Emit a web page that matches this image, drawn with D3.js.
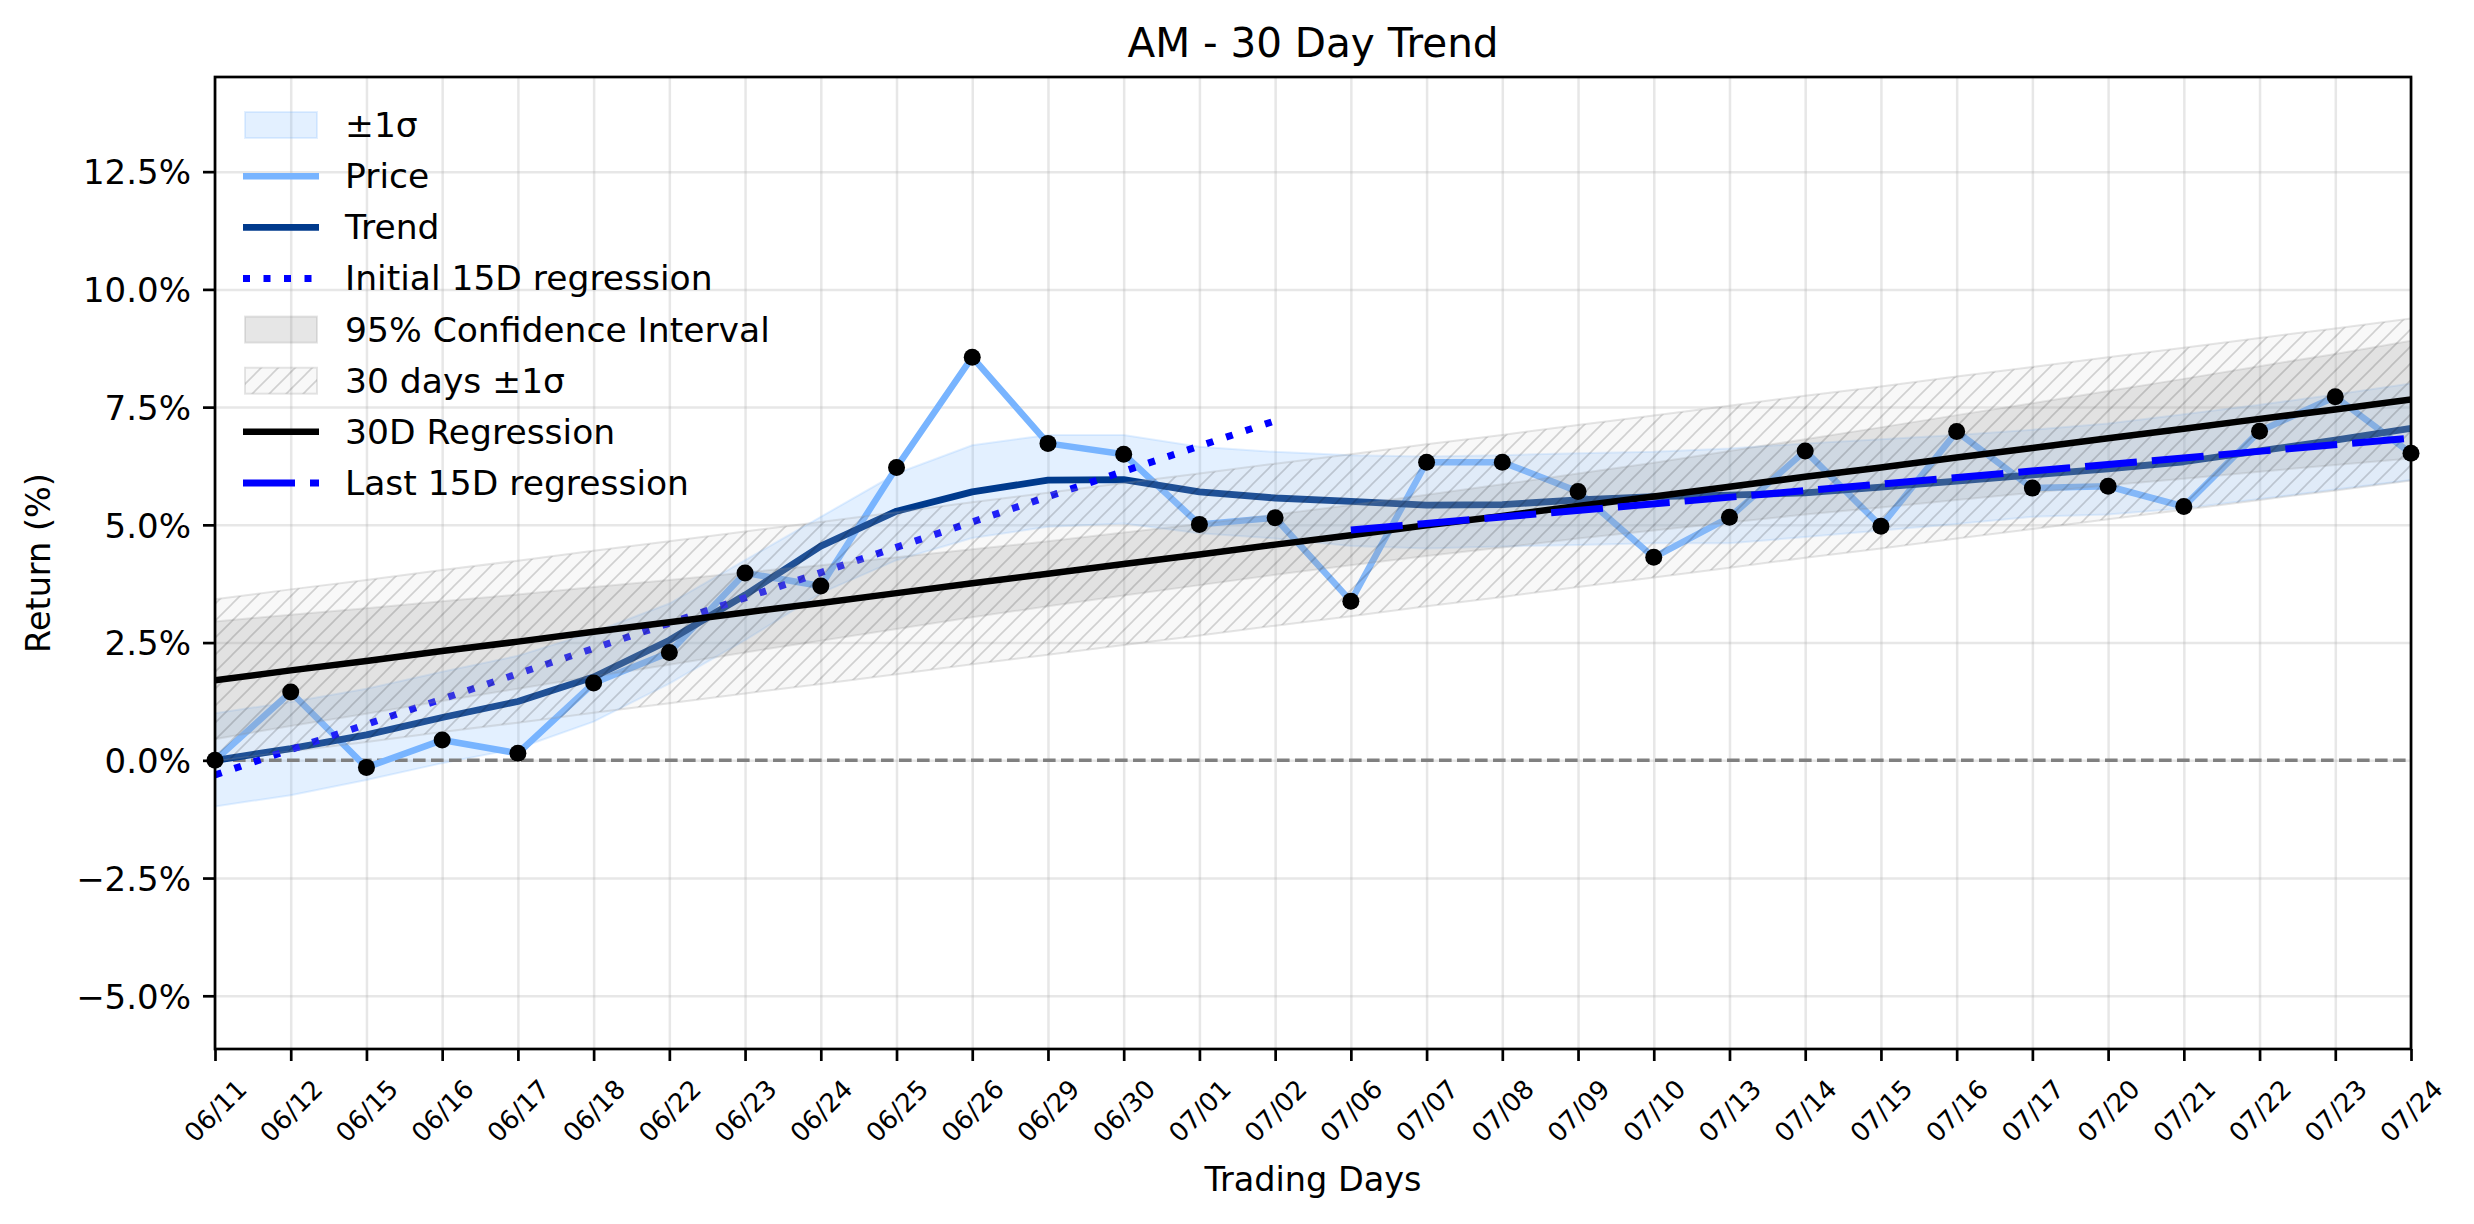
<!DOCTYPE html>
<meta charset="utf-8">
<script src="https://cdn.jsdelivr.net/npm/d3@7"></script>
<style>
  body {
    margin: 0;
    background: #fff;
  }

  text {
    font-family: "DejaVu Sans", sans-serif;
    fill: #000;
  }
</style>

<!-- div container -->
<div id="wrapper"></div>

<script>
  // Data (return in %)
  const dates = ["06/11", "06/12", "06/15", "06/16", "06/17", "06/18", "06/22", "06/23", "06/24", "06/25",
    "06/26", "06/29", "06/30", "07/01", "07/02", "07/06", "07/07", "07/08", "07/09", "07/10",
    "07/13", "07/14", "07/15", "07/16", "07/17", "07/20", "07/21", "07/22", "07/23", "07/24"];

  const price = [0.00, 1.45, -0.15, 0.43, 0.15, 1.64, 2.29, 3.98, 3.70, 6.22,
    8.56, 6.73, 6.50, 5.01, 5.15, 3.38, 6.33, 6.33, 5.71, 4.31,
    5.16, 6.57, 4.97, 6.98, 5.78, 5.82, 5.39, 6.99, 7.72, 6.52];

  const trend = [0.00, 0.25, 0.54, 0.91, 1.25, 1.77, 2.55, 3.51, 4.55, 5.29,
    5.70, 5.95, 5.96, 5.70, 5.57, 5.50, 5.42, 5.43, 5.53, 5.60,
    5.63, 5.68, 5.80, 5.93, 6.06, 6.19, 6.34, 6.57, 6.80, 7.05];

  const sigmaUpper = [1.00, 1.24, 1.52, 1.88, 2.22, 2.72, 3.33, 4.25, 5.17, 6.09,
    6.69, 6.91, 6.91, 6.66, 6.55, 6.48, 6.45, 6.48, 6.52, 6.55,
    6.62, 6.73, 6.82, 6.91, 7.02, 7.15, 7.35, 7.55, 7.77, 8.00];

  const sigmaLower = [-0.98, -0.74, -0.42, -0.06, 0.25, 0.82, 1.63, 2.55, 3.55, 4.25,
    4.72, 4.96, 5.03, 4.82, 4.71, 4.55, 4.50, 4.54, 4.57, 4.61,
    4.61, 4.74, 4.88, 5.02, 5.17, 5.22, 5.35, 5.55, 5.75, 5.95];

  const regression30 = [1.70, 1.91, 2.11, 2.32, 2.52, 2.73, 2.93, 3.14, 3.34, 3.55,
    3.76, 3.96, 4.17, 4.37, 4.58, 4.78, 4.99, 5.19, 5.40, 5.60,
    5.81, 6.02, 6.22, 6.43, 6.63, 6.84, 7.04, 7.25, 7.45, 7.66];

  const ciHalf = [1.25, 1.18, 1.12, 1.06, 1.00, 0.95, 0.90, 0.85, 0.80, 0.76,
    0.72, 0.69, 0.67, 0.65, 0.64, 0.64, 0.65, 0.67, 0.69, 0.72,
    0.76, 0.80, 0.85, 0.90, 0.95, 1.00, 1.06, 1.12, 1.18, 1.25];

  const sigma30 = 1.72;
  const initialReg = [-0.31, 7.21];   // 06/11 -> 07/02
  const lastReg = [4.89, 6.84];       // 07/06 -> 07/24
  const yTicks = [-5, -2.5, 0, 2.5, 5, 7.5, 10, 12.5];

  const legendItems = ["±1σ", "Price", "Trend", "Initial 15D regression", "95% Confidence Interval",
    "30 days ±1σ", "30D Regression", "Last 15D regression"];

  // Margin and width height config
  const W = 2474, H = 1224;
  const margin = { top: 77, right: 63, bottom: 175, left: 215 },
    width = W - margin.left - margin.right,
    height = H - margin.top - margin.bottom;

  const root = d3.select("#wrapper")
    .append("svg")
    .attr("width", W)
    .attr("height", H)
    .style("display", "block");

  root.append("rect").attr("width", W).attr("height", H).attr("fill", "#fff");

  const defs = root.append("defs");
  defs.append("pattern")
    .attr("id", "hatch")
    .attr("patternUnits", "userSpaceOnUse")
    .attr("width", 17)
    .attr("height", 17)
    .append("path")
    .attr("d", "M-4,4 L4,-4 M0,17 L17,0 M13,21 L21,13")
    .attr("stroke", "#000")
    .attr("stroke-opacity", 0.16)
    .attr("stroke-width", 1.6);
  defs.append("clipPath").attr("id", "plotclip")
    .append("rect").attr("width", width).attr("height", height);

  const svg = root.append("g")
    .attr("transform", `translate(${margin.left},${margin.top})`);

  // scales
  const x = d3.scalePoint().domain(dates).range([0, width]);
  const y = d3.scaleLinear().domain([-6.13, 14.51]).range([height, 0]);

  // grid
  svg.append("g")
    .attr("class", "grid")
    .attr("transform", `translate(0,${height})`)
    .call(d3.axisBottom(x).tickSize(-height).tickFormat(""))
    .call(g => g.select(".domain").remove());
  svg.append("g")
    .attr("class", "grid")
    .call(d3.axisLeft(y).tickValues(yTicks).tickSize(-width).tickFormat(""))
    .call(g => g.select(".domain").remove());
  svg.selectAll(".grid line").attr("stroke", "#b0b0b0").attr("stroke-opacity", 0.3).attr("stroke-width", 2.5);

  const idx = d3.range(dates.length);
  const plot = svg.append("g").attr("clip-path", "url(#plotclip)");

  // ±1σ band
  plot.append("path")
    .datum(idx)
    .attr("d", d3.area().x(i => x(dates[i])).y0(i => y(sigmaLower[i])).y1(i => y(sigmaUpper[i])))
    .attr("fill", "#66aaff").attr("fill-opacity", 0.18)
    .attr("stroke", "#66aaff").attr("stroke-opacity", 0.18).attr("stroke-width", 2);

  // zero line
  plot.append("line")
    .attr("x1", 0).attr("x2", width)
    .attr("y1", y(0)).attr("y2", y(0))
    .attr("stroke", "#808080").attr("stroke-width", 3.4)
    .attr("stroke-dasharray", "12.6,5.4");

  // price line
  plot.append("path")
    .datum(idx)
    .attr("d", d3.line().x(i => x(dates[i])).y(i => y(price[i])))
    .attr("fill", "none").attr("stroke", "#78b4ff").attr("stroke-width", 6.5)
    .attr("stroke-linejoin", "round");

  // trend
  plot.append("path")
    .datum(idx)
    .attr("d", d3.line().x(i => x(dates[i])).y(i => y(trend[i])))
    .attr("fill", "none").attr("stroke", "#003a8c").attr("stroke-width", 6.8)
    .attr("stroke-linejoin", "round");

  // initial 15D regression
  plot.append("line")
    .attr("x1", x(dates[0])).attr("y1", y(initialReg[0]))
    .attr("x2", x(dates[14])).attr("y2", y(initialReg[1]))
    .attr("stroke", "#0000ff").attr("stroke-width", 7)
    .attr("stroke-dasharray", "7,13.5");

  // 95% confidence interval
  plot.append("path")
    .datum(idx)
    .attr("d", d3.area().x(i => x(dates[i])).y0(i => y(regression30[i] - ciHalf[i])).y1(i => y(regression30[i] + ciHalf[i])))
    .attr("fill", "#808080").attr("fill-opacity", 0.2)
    .attr("stroke", "#808080").attr("stroke-opacity", 0.2).attr("stroke-width", 2);

  // 30 days ±1σ hatched band
  const sdArea = d3.area().x(i => x(dates[i])).y0(i => y(regression30[i] - sigma30)).y1(i => y(regression30[i] + sigma30));
  plot.append("path").datum(idx).attr("d", sdArea)
    .attr("fill", "#d0d0d0").attr("fill-opacity", 0.15);
  plot.append("path").datum(idx).attr("d", sdArea)
    .attr("fill", "url(#hatch)")
    .attr("stroke", "#999").attr("stroke-opacity", 0.25).attr("stroke-width", 2);

  // 30D regression
  plot.append("path")
    .datum(idx)
    .attr("d", d3.line().x(i => x(dates[i])).y(i => y(regression30[i])))
    .attr("fill", "none").attr("stroke", "#000").attr("stroke-width", 6.5);

  // last 15D regression
  plot.append("line")
    .attr("x1", x(dates[15])).attr("y1", y(lastReg[0]))
    .attr("x2", x(dates[29])).attr("y2", y(lastReg[1]))
    .attr("stroke", "#0000ff").attr("stroke-width", 7)
    .attr("stroke-dasharray", "52,15");

  // points
  svg.append("g")
    .selectAll("circle")
    .data(idx)
    .join("circle")
    .attr("cx", i => x(dates[i]))
    .attr("cy", i => y(price[i]))
    .attr("r", 8.5)
    .attr("fill", "#000");

  // axes
  const xAxis = svg.append("g")
    .attr("transform", `translate(0,${height})`)
    .call(d3.axisBottom(x).tickSize(12).tickSizeOuter(0));
  xAxis.selectAll("text").remove();
  xAxis.selectAll(".tick")
    .append("text")
    .attr("text-anchor", "middle")
    .attr("dominant-baseline", "central")
    .attr("transform", "translate(0,62) rotate(-45)")
    .style("font-size", "26px")
    .text(d => d);

  const yAxis = svg.append("g")
    .call(d3.axisLeft(y).tickValues(yTicks).tickSize(12).tickSizeOuter(0)
      .tickFormat(d => (d < 0 ? "\u2212" : "") + Math.abs(d).toFixed(1) + "%"));
  yAxis.selectAll("text")
    .attr("x", -24)
    .attr("dy", "0.36em")
    .style("font-size", "34px");

  svg.selectAll(".tick line").filter(function () { return !this.closest(".grid"); })
    .attr("stroke", "#000").attr("stroke-width", 2.7);
  svg.selectAll(".domain").attr("stroke", "none");

  // frame
  svg.append("rect")
    .attr("width", width).attr("height", height)
    .attr("fill", "none").attr("stroke", "#000").attr("stroke-width", 2.7);

  // labels
  root.append("text")
    .attr("x", margin.left + width / 2).attr("y", 57)
    .attr("text-anchor", "middle")
    .style("font-size", "40.5px")
    .text("AM - 30 Day Trend");

  root.append("text")
    .attr("x", margin.left + width / 2).attr("y", 1191)
    .attr("text-anchor", "middle")
    .style("font-size", "33.5px")
    .text("Trading Days");

  root.append("text")
    .attr("transform", `translate(50,${margin.top + height / 2}) rotate(-90)`)
    .attr("text-anchor", "middle")
    .style("font-size", "33.5px")
    .text("Return (%)");

  // legend
  const legend = root.append("g");
  const rowY = d3.scaleLinear().domain([0, 7]).range([125, 483]);
  const hx0 = 243, hx1 = 319;

  legendItems.forEach((label, k) => {
    const cy = rowY(k);
    const g = legend.append("g");
    if (k === 0) {
      g.append("rect").attr("x", hx0 + 2).attr("y", cy - 13).attr("width", hx1 - hx0 - 4).attr("height", 26)
        .attr("fill", "#66aaff").attr("fill-opacity", 0.18)
        .attr("stroke", "#66aaff").attr("stroke-opacity", 0.18).attr("stroke-width", 2);
    } else if (k === 4) {
      g.append("rect").attr("x", hx0 + 2).attr("y", cy - 13).attr("width", hx1 - hx0 - 4).attr("height", 26)
        .attr("fill", "#808080").attr("fill-opacity", 0.2)
        .attr("stroke", "#808080").attr("stroke-opacity", 0.2).attr("stroke-width", 2);
    } else if (k === 5) {
      g.append("rect").attr("x", hx0 + 2).attr("y", cy - 13).attr("width", hx1 - hx0 - 4).attr("height", 26)
        .attr("fill", "#d0d0d0").attr("fill-opacity", 0.15);
      g.append("rect").attr("x", hx0 + 2).attr("y", cy - 13).attr("width", hx1 - hx0 - 4).attr("height", 26)
        .attr("fill", "url(#hatch)")
        .attr("stroke", "#999").attr("stroke-opacity", 0.25).attr("stroke-width", 2);
    } else {
      const styles = {
        1: { c: "#78b4ff", w: 6.5, d: null },
        2: { c: "#003a8c", w: 6.8, d: null },
        3: { c: "#0000ff", w: 7, d: "7,13.5" },
        6: { c: "#000", w: 6.5, d: null },
        7: { c: "#0000ff", w: 7, d: "52,15" }
      }[k];
      g.append("line")
        .attr("x1", hx0).attr("x2", hx1).attr("y1", cy).attr("y2", cy)
        .attr("stroke", styles.c).attr("stroke-width", styles.w)
        .attr("stroke-dasharray", styles.d);
    }
    g.append("text")
      .attr("x", 345).attr("y", cy + 12)
      .style("font-size", "34.5px")
      .text(label);
  });
</script>
